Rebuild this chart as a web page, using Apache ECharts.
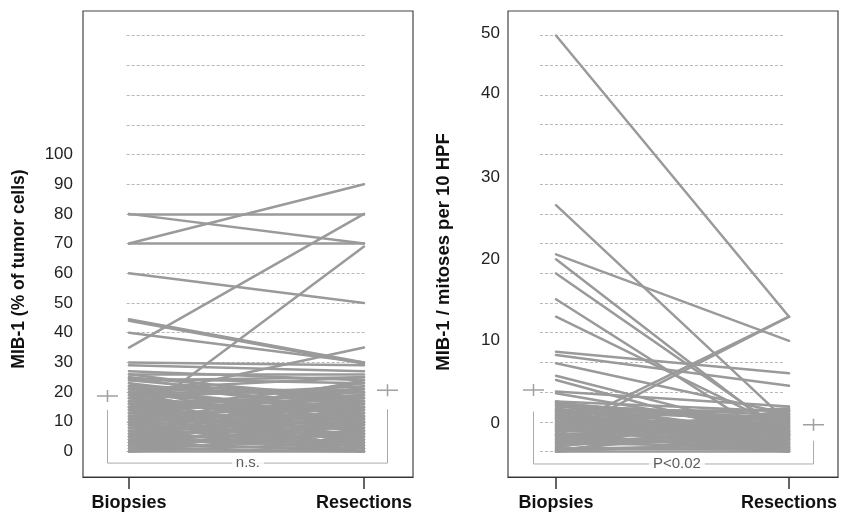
<!DOCTYPE html>
<html><head><meta charset="utf-8">
<script src="https://cdn.jsdelivr.net/npm/echarts@6/dist/echarts.min.js"></script>
<style>html,body{margin:0;padding:0;background:#fff}#c{width:841px;height:514px}</style>
</head><body><div id="c"></div>
<script>
// ---------- data ----------
const categories = ['Biopsies', 'Resections'];
const leftAxisName = 'MIB-1 (% of tumor cells)';
const rightAxisName = 'MIB-1 / mitoses per 10 HPF';
const leftTickValues = [0, 10, 20, 30, 40, 50, 60, 70, 80, 90, 100];
const rightTickLabels = ['0', '10', '20', '30', '40', '50'];
// where the original figure prints its right-hand tick labels, on the data scale
const rightTickAt = [3.4, 13.4, 23.1, 33.0, 43.05, 50.3];

// left panel: MIB-1 % of tumor cells, one entry per patient
const leftBiopsy = [
  80, 80, 70, 70, 35, 10, 60, 44.5, 44, 40, 30, 29, 26, 24.5, 18, 22,
  27, 25, 25, 24, 23, 22, 22, 21, 21, 20,
  20, 20, 19, 19, 18, 18, 17, 17, 16, 16,
  15, 15, 15, 15, 14, 14, 14, 13, 13, 12,
  12, 12, 11, 11, 10, 10, 10, 10, 9, 9,
  8, 8, 8, 7, 7, 7, 6, 6, 6, 5,
  5, 5, 5, 4, 4, 4, 3, 3, 3, 2,
  2, 2, 1, 1, 1, 0, 0, 0, 2, 4,
  9, 13, 16, 18, 23, 26, 11, 6, 3, 0,
  22, 19, 17, 14, 21, 24, 16, 13
];
const leftResection = [
  80, 70, 90, 70, 80, 69, 50, 30, 29.5, 30, 29, 27, 26, 23, 35, 20,
  24, 18, 12, 25, 14, 16, 9, 25, 6, 20,
  12, 4, 15, 8, 22, 2, 17, 10, 13, 5,
  20, 15, 8, 3, 18, 10, 1, 14, 7, 16,
  12, 4, 9, 2, 15, 10, 6, 0, 13, 5,
  18, 9, 2, 11, 6, 0, 14, 8, 3, 16,
  10, 5, 1, 12, 7, 2, 9, 4, 0, 13,
  6, 1, 10, 4, 0, 7, 3, 0, 19, 22,
  24, 19, 1, 11, 7, 16, 17, 21, 15, 11,
  18, 21, 14, 23, 13, 17, 19, 11
];
// right panel: mitoses per 10 HPF
const rightBiopsy = [
  50, 29.6, 23.7, 23.1, 21.4, 18.3, 16.2, 12, 11.6, 10.6, 9.1, 8.6, 7.2, 7.0, 2.5, 1.8,
  6, 5.8, 5.6, 5.4, 5.2, 5, 5, 4.8, 4.6, 4.4,
  4.2, 4, 4, 3.8, 3.6, 3.4, 3.2, 3, 3, 2.8,
  2.6, 2.4, 2.2, 2, 2, 1.8, 1.6, 1.4, 1.2, 1,
  1, 0.8, 0.6, 0.4, 0.2, 0, 0, 0, 0.5, 1.5,
  2.5, 3.5, 4.5, 5.5, 6, 0.3, 1.1, 2.1, 3.1, 4.1,
  5.1, 5.9, 0.9, 1.9, 2.9, 3.9, 4.9, 0.1, 2.7, 4.7,
  5.7, 3.3, 1.3, 4.3
];
const rightResection = [
  16.2, 3.4, 13.3, 1.5, 2.0, 0.5, 2.5, 9.4, 7.9, 4.5, 2, 1, 5.4, 2.2, 16.2, 16.2,
  4.8, 2, 0.5, 3.6, 1.2, 5, 0, 2.8, 4.2, 0.8,
  1.8, 3.2, 0.2, 5.2, 2.4, 1, 4, 0, 2, 3,
  0.6, 4.6, 1.4, 0.2, 2.6, 3.8, 1, 0, 2.2, 4.4,
  0.6, 1.6, 3.2, 0.2, 2.8, 0, 1.2, 4, 5, 3.4,
  1.8, 3.6, 2.4, 4.4, 1.4, 0.8, 1.9, 0, 2.9, 0.5,
  1.6, 3, 2.4, 0.4, 4.2, 1.4, 3.8, 3.5, 2.2, 1,
  3.9, 0.3, 4.9, 2.6
];
// group means (the "+" marks) and test results
const leftMeans = [18.7, 20.6];
const rightMeans = [7.4, 3.2];
const leftTest = 'n.s.';
const rightTest = 'P<0.02';

// ---------- layout ----------
const FONT = 'Liberation Sans, Arial, Helvetica, sans-serif';
const lineGrey = '#9a9a9a';
const leftGridVals = []; for (let k = 0; k <= 14; k++) leftGridVals.push(k * 10);
const rightGridVals = []; for (let k = 0; k <= 14; k++) rightGridVals.push(k * 50 / 14);
const markX = { left: [-0.0915, 1.100], right: [-0.0966, 1.105] };
const bracket = {
  left: { top: [14.0, 14.2], bottom: -3.9, textX: 0.506 },
  right: { top: [4.8, 1.3], bottom: -1.5, textX: 0.519 }
};

function xAxis(idx, min, max) {
  return {
    type: 'value', gridIndex: idx, min: min, max: max,
    splitLine: { show: false },
    axisLine: { show: true, onZero: false, lineStyle: { color: '#333', width: 1.2 } },
    axisTick: { show: true, customValues: [0, 1], length: 12, lineStyle: { color: '#333', width: 1.5 } },
    axisLabel: {
      customValues: [0, 1], margin: 17,
      formatter: v => categories[Math.round(v)],
      fontFamily: FONT, fontWeight: 'bold', fontSize: 18, color: '#111'
    }
  };
}
function yAxis(idx, min, max, name, fs, pad, labelCfg) {
  return Object.assign({
    type: 'value', gridIndex: idx, min: min, max: max,
    name: name, nameLocation: 'middle', nameGap: 55,
    nameTextStyle: { fontFamily: FONT, fontWeight: 'bold', fontSize: fs, color: '#111', padding: [0, pad, 0, 0] },
    splitLine: { show: false },
    axisLine: { show: false, onZero: false },
    axisTick: { show: false }
  }, labelCfg);
}
function pairLines(b, r) {
  return b.map((v, i) => ({ coords: [[0, v], [1, r[i]]] }));
}
function gridLines(vals, x0, x1) {
  return vals.map(v => ({ coords: [[x0, v], [x1, v]] }));
}

const series = [];
function panel(idx, bio, res, means, gvals, gx0, gx1, mx, br, test) {
  series.push({
    type: 'lines', coordinateSystem: 'cartesian2d', xAxisIndex: idx, yAxisIndex: idx,
    silent: true, z: 1,
    lineStyle: { color: '#b8b8b8', width: 1, type: [3, 2], opacity: 1 },
    data: gridLines(gvals, gx0, gx1)
  });
  series.push({
    type: 'lines', coordinateSystem: 'cartesian2d', xAxisIndex: idx, yAxisIndex: idx,
    silent: true, z: 2,
    lineStyle: { color: lineGrey, width: 2.5, opacity: 1, cap: 'round' },
    data: pairLines(bio, res)
  });
  series.push({
    type: 'line', xAxisIndex: idx, yAxisIndex: idx, silent: true, z: 3,
    symbol: 'none', lineStyle: { color: '#aaa', width: 1 },
    data: [[mx[0], br.top[0]], [mx[0], br.bottom], [mx[1], br.bottom], [mx[1], br.top[1]]]
  });
  series.push({
    type: 'scatter', xAxisIndex: idx, yAxisIndex: idx, silent: true, z: 4,
    symbol: 'path://M0,5.25H21V6.75H0Z M9.75,0H11.25V12H9.75Z', symbolSize: [21, 12],
    itemStyle: { color: '#888' },
    data: [[mx[0], means[0]], [mx[1], means[1]]]
  });
  series.push({
    type: 'scatter', xAxisIndex: idx, yAxisIndex: idx, silent: true, z: 5,
    symbolSize: 1, itemStyle: { color: 'rgba(0,0,0,0)' },
    label: {
      show: true, position: 'inside', formatter: test,
      fontFamily: FONT, fontSize: 15, color: '#333',
      backgroundColor: '#fff', padding: [1, 4]
    },
    data: [[br.textX, br.bottom]]
  });
}
panel(0, leftBiopsy, leftResection, leftMeans, leftGridVals, -0.01, 1.004, markX.left, bracket.left, leftTest);
panel(1, rightBiopsy, rightResection, rightMeans, rightGridVals, -0.069, 0.975, markX.right, bracket.right, rightTest);

const option = {
  animation: false,
  backgroundColor: '#fff',
  textStyle: { fontFamily: FONT },
  grid: [
    { left: 83, top: 11, width: 330, height: 466, show: true, borderColor: '#444', borderWidth: 1.2, backgroundColor: '#fff' },
    { left: 508, top: 11, width: 330, height: 466, show: true, borderColor: '#444', borderWidth: 1.2, backgroundColor: '#fff' }
  ],
  xAxis: [xAxis(0, -0.1957, 1.2085), xAxis(1, -0.206, 1.210)],
  yAxis: [
    yAxis(0, -8.58, 148.3, leftAxisName, 17.5, 50, {
      axisLabel: { customValues: leftTickValues, margin: 10, fontFamily: FONT, fontSize: 17, color: '#222' }
    }),
    yAxis(1, -3.065, 52.94, rightAxisName, 18.5, 16, {
      axisLabel: {
        customValues: rightTickAt, margin: 8, fontFamily: FONT, fontSize: 17, color: '#222',
        formatter: v => {
          let best = 0;
          rightTickAt.forEach((t, i) => { if (Math.abs(t - v) < Math.abs(rightTickAt[best] - v)) best = i; });
          return rightTickLabels[best];
        }
      }
    })
  ],
  series: series
};
const chart = echarts.init(document.getElementById('c'), null, { renderer: 'canvas' });
chart.setOption(option);
</script>
</body></html>
